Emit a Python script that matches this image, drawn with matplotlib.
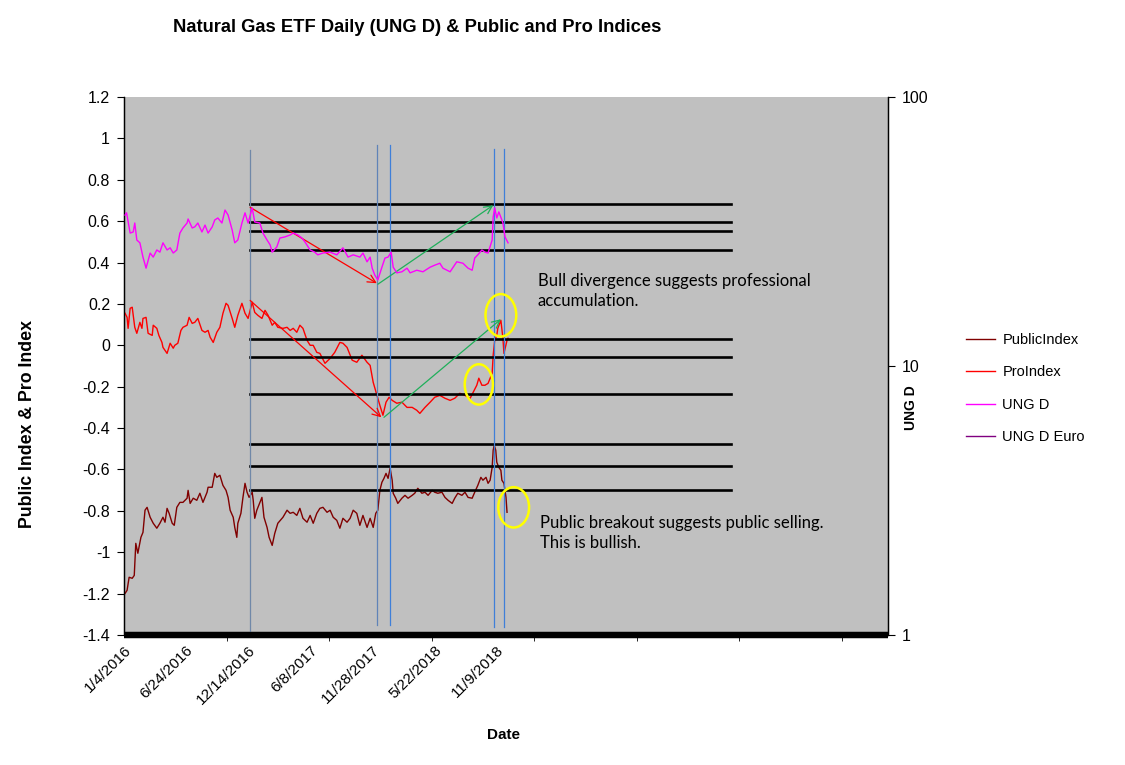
import numpy as np
import matplotlib
matplotlib.use("Agg")
import matplotlib.pyplot as plt
from matplotlib.lines import Line2D
from matplotlib.patches import Ellipse

plt.rcParams['font.family'] = ['Liberation Sans', 'DejaVu Sans']

# x axis is an Excel category axis: one slot per trading day
n_slots = 1490
tick_days = [0, 121, 242, 363, 484, 605, 726]
tick_labels = ["1/4/2016", "6/24/2016", "12/14/2016", "6/8/2017",
               "11/28/2017", "5/22/2018", "11/9/2018"]
left_ticks = [-1.4, -1.2, -1.0, -0.8, -0.6, -0.4, -0.2, 0.0, 0.2, 0.4, 0.6, 0.8, 1.0, 1.2]
left_labels = ["-1.4", "-1.2", "-1", "-0.8", "-0.6", "-0.4", "-0.2", "0",
               "0.2", "0.4", "0.6", "0.8", "1", "1.2"]

# UNG D (right axis, log scale)
ung_days = [2, 5, 12, 18, 21, 25, 31, 37, 43, 51, 57, 64, 70, 76, 84, 90, 96, 103,
            109, 115, 123, 125, 133, 138, 144, 152, 158, 164, 172, 177, 183, 191,
            197, 203, 211, 216, 222, 230, 236, 242, 250, 255, 265, 271, 279, 285,
            289, 298, 304, 314, 324, 330, 339, 347, 353, 363, 372, 378, 388, 402,
            415, 427, 437, 447, 460, 466, 474, 480, 484, 489, 495, 503, 509, 515,
            521, 525, 532, 542, 552, 558, 571, 583, 597, 606, 616, 622, 636, 649,
            661, 671, 679, 684, 690, 698, 704, 710, 718, 720, 723, 727, 731, 737,
            739, 743, 749]
ung_vals = [36.4, 37.1, 31.2, 31.5, 34.0, 29.4, 28.7, 25.4, 23.1, 26.3, 25.4, 27.0,
            26.5, 28.7, 27.0, 27.5, 26.3, 27.0, 31.2, 32.6, 34.0, 35.2, 32.6, 32.9,
            34.0, 31.5, 33.4, 31.2, 32.9, 34.9, 35.5, 34.0, 38.0, 36.4, 32.0, 28.7,
            29.4, 34.0, 37.1, 34.0, 38.7, 34.3, 34.0, 31.2, 29.4, 28.2, 26.5, 27.7,
            29.9, 30.2, 30.7, 31.2, 30.7, 29.9, 28.9, 27.0, 26.5, 25.9, 26.3, 26.5,
            25.9, 27.5, 25.4, 25.9, 25.4, 26.3, 24.4, 25.4, 23.1, 21.8, 20.9, 23.3,
            25.2, 25.4, 26.5, 23.3, 22.2, 22.4, 23.1, 22.2, 22.7, 22.4, 23.3, 23.7,
            24.1, 23.1, 22.4, 24.4, 24.1, 23.1, 22.7, 25.2, 25.9, 27.0, 26.5, 26.3,
            29.4, 35.8, 38.7, 35.5, 37.4, 34.9, 34.0, 30.2, 28.7]

# ProIndex (left axis)
pro_days = [2, 6, 8, 12, 16, 18, 21, 25, 31, 35, 37, 43, 47, 55, 57, 64, 68, 74, 76,
            84, 90, 96, 99, 105, 111, 115, 123, 127, 133, 138, 144, 152, 158, 164,
            168, 174, 181, 187, 193, 199, 203, 211, 216, 222, 230, 236, 242, 250,
            255, 261, 269, 275, 281, 289, 294, 300, 310, 318, 324, 330, 337, 343,
            349, 357, 363, 369, 376, 382, 392, 402, 411, 421, 427, 435, 445, 454,
            464, 474, 480, 486, 495, 499, 505, 511, 517, 523, 532, 542, 552, 562,
            571, 577, 587, 597, 606, 616, 626, 636, 645, 655, 665, 675, 681, 688,
            692, 698, 704, 710, 718, 720, 723, 727, 729, 735, 739, 741, 747, 749]
pro_vals = [0.155, 0.135, 0.082, 0.179, 0.184, 0.145, 0.087, 0.058, 0.111, 0.082,
            0.130, 0.135, 0.058, 0.048, 0.097, 0.082, 0.048, 0.014, -0.010, -0.039,
            0.010, -0.014, 0.0, 0.010, 0.072, 0.087, 0.097, 0.135, 0.106, 0.111,
            0.130, 0.072, 0.063, 0.072, 0.039, 0.014, 0.063, 0.087, 0.155, 0.203,
            0.193, 0.130, 0.087, 0.145, 0.203, 0.155, 0.130, 0.208, 0.159, 0.145,
            0.130, 0.169, 0.145, 0.097, 0.111, 0.087, 0.082, 0.087, 0.072, 0.082,
            0.063, 0.097, 0.082, 0.024, 0.0, 0.0, -0.034, -0.039, -0.087, -0.063,
            -0.034, 0.014, 0.010, -0.010, -0.072, -0.082, -0.048, -0.082, -0.097,
            -0.179, -0.256, -0.290, -0.338, -0.275, -0.251, -0.266, -0.280, -0.275,
            -0.300, -0.300, -0.314, -0.329, -0.300, -0.275, -0.251, -0.242, -0.256,
            -0.266, -0.256, -0.232, -0.242, -0.256, -0.227, -0.193, -0.159, -0.193,
            -0.193, -0.184, -0.135, -0.048, 0.024, 0.048, 0.082, 0.121, 0.034,
            -0.039, 0.024, 0.034]

# PublicIndex (left axis)
pub_days = [2, 6, 10, 16, 20, 23, 27, 33, 37, 41, 45, 51, 57, 64, 70, 76, 80, 84, 88,
            94, 98, 103, 109, 115, 123, 125, 129, 135, 142, 148, 154, 162, 164, 172,
            177, 181, 187, 193, 199, 203, 207, 213, 216, 220, 222, 228, 232, 236,
            240, 244, 250, 252, 255, 259, 265, 269, 273, 279, 283, 289, 294, 300,
            310, 318, 324, 330, 337, 343, 349, 357, 363, 369, 376, 382, 388, 396,
            402, 408, 415, 421, 427, 435, 441, 447, 454, 460, 466, 474, 480, 486,
            491, 495, 499, 503, 507, 511, 515, 519, 523, 525, 530, 534, 542, 548,
            554, 562, 567, 573, 581, 587, 593, 601, 606, 612, 620, 626, 632, 640,
            645, 651, 659, 665, 671, 679, 684, 690, 696, 700, 706, 710, 714, 718,
            720, 722, 725, 727, 731, 735, 737, 741, 745, 747]
pub_vals = [-1.199, -1.184, -1.121, -1.126, -1.112, -0.957, -1.005, -0.928, -0.904,
            -0.797, -0.783, -0.831, -0.860, -0.884, -0.860, -0.831, -0.855, -0.788,
            -0.812, -0.860, -0.870, -0.783, -0.759, -0.759, -0.739, -0.701, -0.764,
            -0.739, -0.749, -0.715, -0.759, -0.710, -0.686, -0.686, -0.619, -0.638,
            -0.628, -0.677, -0.701, -0.735, -0.797, -0.831, -0.880, -0.928, -0.860,
            -0.812, -0.735, -0.667, -0.710, -0.735, -0.710, -0.749, -0.836, -0.797,
            -0.759, -0.735, -0.831, -0.880, -0.928, -0.967, -0.909, -0.860, -0.831,
            -0.797, -0.812, -0.807, -0.822, -0.788, -0.836, -0.855, -0.822, -0.860,
            -0.812, -0.788, -0.783, -0.807, -0.797, -0.831, -0.846, -0.884, -0.836,
            -0.855, -0.836, -0.797, -0.812, -0.870, -0.822, -0.880, -0.836, -0.880,
            -0.812, -0.797, -0.701, -0.662, -0.643, -0.619, -0.643, -0.594, -0.652,
            -0.715, -0.739, -0.764, -0.739, -0.725, -0.739, -0.725, -0.715, -0.691,
            -0.715, -0.710, -0.725, -0.701, -0.710, -0.715, -0.710, -0.735, -0.749,
            -0.764, -0.739, -0.715, -0.725, -0.710, -0.735, -0.739, -0.710, -0.677,
            -0.638, -0.652, -0.638, -0.667, -0.652, -0.590, -0.507, -0.483, -0.507,
            -0.565, -0.590, -0.604, -0.652, -0.667, -0.735, -0.807]

# horizontal support / resistance levels (left axis units)
levels = [0.681, 0.596, 0.553, 0.459, 0.032, -0.057, -0.235, -0.478, -0.583, -0.701]
level_start, level_end = 246, 1184

# vertical marker lines (day, top, bottom, colour)
vlines = [(246, 0.942, -1.387, '#7088A8'), (493, 0.966, -1.353, '#6083B8'),
          (519, 0.966, -1.353, '#3F7FD8'), (722, 0.951, -1.363, '#3F7FD8'),
          (741, 0.951, -1.363, '#3F7FD8')]

# arrows: (x0, y0, x1, y1, colour)
arrows = [(246, 0.667, 493, 0.300, 'red'), (495, 0.295, 720, 0.677, '#1FAF5A'),
          (246, 0.217, 502, -0.348, 'red'), (507, -0.348, 735, 0.126, '#1FAF5A')]

# yellow circles: (centre day, centre value, width days, height)
circles = [(735, 0.145, 60, 0.205), (692, -0.189, 55, 0.195), (760, -0.783, 60, 0.195)]


fig = plt.figure(figsize=(11.25, 7.65), dpi=100)
ax = fig.add_axes([124/1125, 130/765, 764/1125, 538/765])
ax.set_facecolor('#C0C0C0')
ax2 = ax.twinx()

ax.plot(pub_days, pub_vals, color='#800000', lw=1.0, zorder=3)
ax.plot(pro_days, pro_vals, color='#FF0000', lw=1.0, zorder=3)
ax2.plot(ung_days, ung_vals, color='#FF00FF', lw=1.0, zorder=3)

for lv in levels:
    ax.plot([level_start, level_end], [lv, lv], color='black', lw=1.9, zorder=4)

for d, top, bot, c in vlines:
    ax.plot([d, d], [bot, top], color=c, lw=0.9, zorder=5)

for x0, y0, x1, y1, c in arrows:
    ax.annotate('', xy=(x1, y1), xytext=(x0, y0),
                arrowprops=dict(arrowstyle='->', color=c, lw=0.9, mutation_scale=14,
                                shrinkA=0, shrinkB=0), zorder=6)

for cx, cy, w, h in circles:
    ax.add_patch(Ellipse((cx, cy), w, h, fill=False, edgecolor='#FFFF00', lw=1.8, zorder=7))

ax.text(807, 0.261, "Bull divergence suggests professional\naccumulation.",
        family=['Lato', 'DejaVu Sans'], fontsize=12, va='center', ha='left',
        linespacing=1.3, zorder=8)
ax.text(811, -0.909, "Public breakout suggests public selling.\nThis is bullish.",
        family=['Lato', 'DejaVu Sans'], fontsize=12, va='center', ha='left',
        linespacing=1.3, zorder=8)

ax.set_xlim(0, n_slots)
ax.set_ylim(-1.4, 1.2)
ax.set_yticks(left_ticks)
ax.set_yticklabels(left_labels)
ax.set_xticks(tick_days)
ax.set_xticklabels(tick_labels, rotation=45, ha='right', rotation_mode='anchor')
ax.set_xticks(np.arange(0, n_slots, 200), minor=True)
ax.tick_params(axis='x', which='major', length=0, labelsize=11, pad=6)
ax.tick_params(axis='x', which='minor', length=4, direction='out')
ax.tick_params(axis='y', length=5, direction='out', labelsize=11.5, pad=5)

ax2.set_yscale('log')
ax2.set_ylim(1, 100)
ax2.set_yticks([1, 10, 100])
ax2.set_yticklabels(["1", "10", "100"])
ax2.yaxis.set_minor_locator(matplotlib.ticker.NullLocator())
ax2.tick_params(axis='y', length=5, direction='out', labelsize=11.5, pad=5)

for a in (ax, ax2):
    a.spines['top'].set_visible(False)
    a.spines['left'].set_linewidth(0.9)
    a.spines['right'].set_linewidth(0.9)
    a.spines['bottom'].set_linewidth(4.5)
    a.spines['bottom'].set_capstyle('butt')

fig.text(173/1125, 1 - 28/765, "Natural Gas ETF Daily (UNG D) & Public and Pro Indices",
         fontsize=13.2, fontweight='bold', ha='left', va='center')
fig.text(28/1125, 1 - 424/765, "Public Index & Pro Index", fontsize=12.8,
         fontweight='bold', rotation=90, ha='center', va='center')
fig.text(911/1125, 1 - 408/765, "UNG D", fontsize=10, fontweight='bold',
         rotation=90, ha='center', va='center')
fig.text(503/1125, 1 - 735/765, "Date", fontsize=11, fontweight='bold',
         ha='center', va='center')

handles = [Line2D([], [], color='#800000', lw=1.0),
           Line2D([], [], color='#FF0000', lw=1.0),
           Line2D([], [], color='#FF00FF', lw=1.0),
           Line2D([], [], color='#800080', lw=1.0)]
fig.legend(handles, ["PublicIndex", "ProIndex", "UNG D", "UNG D Euro"],
           loc='center left', bbox_to_anchor=(966/1125, 1 - 388.5/765),
           frameon=False, fontsize=10.5, handlelength=2.0, handletextpad=0.5,
           labelspacing=1.25, borderpad=0, borderaxespad=0)

fig.savefig("out.png", dpi=100)
